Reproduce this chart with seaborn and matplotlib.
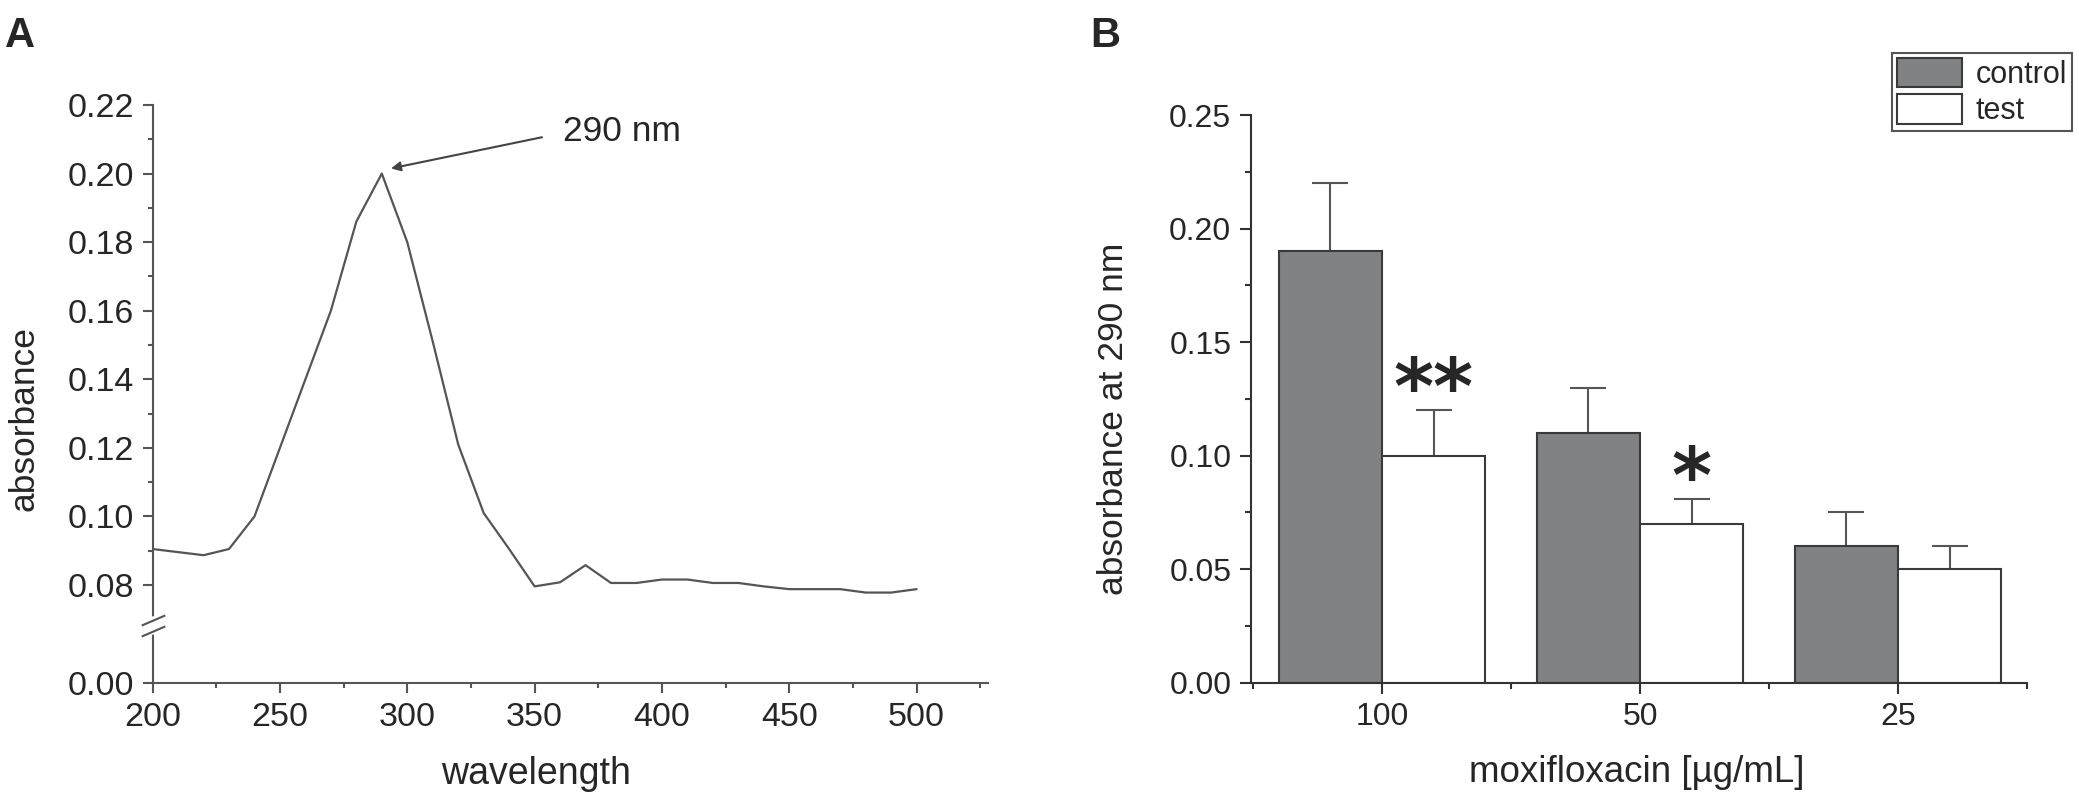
import numpy as np
import pandas as pd
import seaborn as sns
import matplotlib.pyplot as plt
from matplotlib.ticker import FixedLocator, FormatStrFormatter

# panel A: absorption spectrum
wavelength = [200, 210, 220, 230, 240, 250, 260, 270, 280, 290, 300,
              310, 320, 330, 340, 350, 360, 370, 380, 390, 400,
              410, 420, 430, 440, 450, 460, 470, 480, 490, 500]
absorbance = [0.0905, 0.0896, 0.0887, 0.0905, 0.100, 0.120, 0.140, 0.160, 0.186, 0.200, 0.180,
              0.151, 0.121, 0.101, 0.0905, 0.0796, 0.0808, 0.0858, 0.0806, 0.0806, 0.0816,
              0.0816, 0.0806, 0.0806, 0.0796, 0.0788, 0.0788, 0.0788, 0.0778, 0.0778, 0.0788]
a_yticks = [0.00, 0.08, 0.10, 0.12, 0.14, 0.16, 0.18, 0.20, 0.22]
a_yminor = [0.09, 0.11, 0.13, 0.15, 0.17, 0.19, 0.21]
peak_label = "290 nm"

# panel B: bars
doses = ["100", "50", "25"]
groups = ["control", "test"]
control_mean = [0.19, 0.11, 0.06]
control_err = [0.03, 0.02, 0.015]
test_mean = [0.10, 0.07, 0.05]
test_err = [0.02, 0.011, 0.01]
test_stars = ["**", "*", ""]

bars = pd.DataFrame({
    "dose": doses * 2,
    "group": ["control"] * 3 + ["test"] * 3,
    "value": control_mean + test_mean,
})

sns.set_style("ticks")
plt.rcParams["font.family"] = ["Liberation Sans", "DejaVu Sans"]

fig = plt.figure(figsize=(20.79, 8.01), dpi=100)
axA = fig.add_axes([0.0734, 0.1473, 0.4018, 0.7216])
axB = fig.add_axes([0.6016, 0.1477, 0.3734, 0.7087])

# ---- A ----
brk, k = 0.07, 0.2654


def fwd(y):
    y = np.asarray(y, dtype=float)
    return np.where(y >= brk, y, brk - (brk - y) * k)


def inv(u):
    u = np.asarray(u, dtype=float)
    return np.where(u >= brk, u, brk - (brk - u) / k)


axA.set_yscale("function", functions=(fwd, inv))
sns.lineplot(x=wavelength, y=absorbance, ax=axA, color="#555555", lw=1.6)
axA.set_xlim(200, 528)
axA.set_ylim(0, 0.22)
axA.set_xticks([200, 250, 300, 350, 400, 450, 500])
axA.xaxis.set_minor_locator(FixedLocator([225, 275, 325, 375, 425, 475, 525]))
axA.yaxis.set_major_locator(FixedLocator(a_yticks))
axA.yaxis.set_minor_locator(FixedLocator(a_yminor))
axA.yaxis.set_major_formatter(FormatStrFormatter("%.2f"))
sns.despine(ax=axA)
for s in ["left", "bottom"]:
    axA.spines[s].set_color("#555555")
    axA.spines[s].set_linewidth(1.5)
axA.tick_params(which="major", length=7.5, width=1.5, color="#555555", labelsize=24.5, pad=6)
axA.tick_params(which="minor", length=3.8, width=1.5, color="#555555")
axA.set_xlabel("wavelength", fontsize=27)
axA.set_ylabel("absorbance", fontsize=25.5)
axA.xaxis.set_label_coords(0.459, -0.126)
axA.yaxis.set_label_coords(-0.134, 0.457)

# axis break marks
axA.plot([0, 0], [0.088, 0.111], transform=axA.transAxes, color="white",
         lw=4, clip_on=False, zorder=5)
axA.plot([0, 0], [0.090, 0.109], transform=axA.transAxes, ls="none",
         marker=[(-1, -0.43), (1, 0.43)], markersize=17, mew=1.5,
         mec="#555555", clip_on=False, zorder=6)

axA.annotate("", xy=(293.6, 0.2015), xytext=(352.9, 0.2106),
             arrowprops=dict(arrowstyle="-|>", color="#444444", lw=1.5,
                             mutation_scale=14, shrinkA=0, shrinkB=0))
axA.text(361, 0.2122, peak_label, fontsize=25.5, va="center", ha="left")

# ---- B ----
sns.barplot(data=bars, x="dose", y="value", hue="group", order=doses,
            hue_order=groups, palette={"control": "#808285", "test": "white"},
            edgecolor="#3a3a3a", linewidth=1.5, errorbar=None, width=0.8,
            ax=axB, zorder=2)

for cont, errs, stars in zip(axB.containers[:2], [control_err, test_err],
                             [None, test_stars]):
    for j, r in enumerate(cont.patches):
        e = errs[j]
        cx = r.get_x() + r.get_width() / 2
        h = r.get_height()
        _, caps, _ = axB.errorbar([cx], [h], yerr=[[0], [e]], fmt="none",
                                  ecolor="#555555", elinewidth=1.5, capsize=13,
                                  capthick=1.5, zorder=1)
        for c in caps:
            if np.allclose(c.get_ydata(), h):
                c.set_visible(False)
        if stars and stars[j]:
            axB.annotate(stars[j], xy=(cx, h + e), xytext=(0, -2),
                         textcoords="offset points", ha="center", va="baseline",
                         fontsize=55, fontweight="bold", family="DejaVu Sans")

axB.set_xlim(-0.509, 2.5)
axB.set_ylim(0, 0.25)
axB.set_yticks([0.00, 0.05, 0.10, 0.15, 0.20, 0.25])
axB.yaxis.set_minor_locator(FixedLocator([0.025, 0.075, 0.125, 0.175, 0.225]))
axB.yaxis.set_major_formatter(FormatStrFormatter("%.2f"))
axB.xaxis.set_minor_locator(FixedLocator([-0.5, 0.5, 1.5, 2.5]))
sns.despine(ax=axB)
for s in ["left", "bottom"]:
    axB.spines[s].set_color("#333333")
    axB.spines[s].set_linewidth(1.5)
axB.tick_params(which="major", length=8, width=1.5, color="#333333", labelsize=23, pad=6)
axB.tick_params(which="minor", length=4.5, width=1.5, color="#333333")
axB.set_xlabel("moxifloxacin [µg/mL]", fontsize=26.5)
axB.set_ylabel("absorbance at 290 nm", fontsize=25.5)
axB.xaxis.set_label_coords(0.497, -0.128)
axB.yaxis.set_label_coords(-0.156, 0.465)

sns.move_legend(axB, "upper right", bbox_to_anchor=(0.9966, 0.9338),
                bbox_transform=fig.transFigure, title=None, frameon=True,
                fontsize=22, handlelength=2.15, handleheight=1.1,
                labelspacing=0.15, borderpad=0.15, handletextpad=0.45,
                borderaxespad=0, fancybox=False, framealpha=1,
                edgecolor="#555555")
leg = axB.get_legend()
leg.get_frame().set_linewidth(1.5)
for h in leg.legend_handles:
    h.set_edgecolor("#3a3a3a")
    h.set_linewidth(1.5)

fig.text(0.0024, 0.98, "A", fontsize=30, fontweight="bold", va="top")
fig.text(0.5245, 0.98, "B", fontsize=30, fontweight="bold", va="top")

fig.savefig("out.png", dpi=100)
